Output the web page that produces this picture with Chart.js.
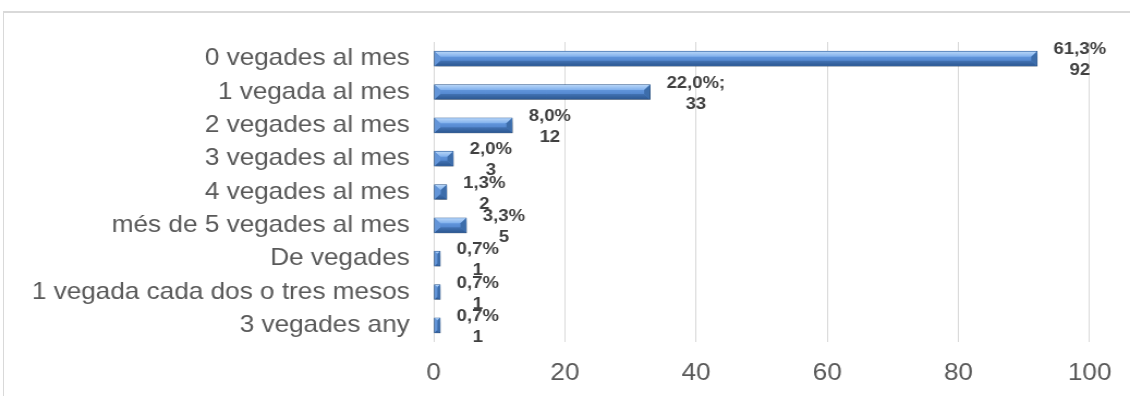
<!DOCTYPE html>
<html>
<head>
<meta charset="utf-8">
<script src="https://cdn.jsdelivr.net/npm/chart.js@4/dist/chart.umd.min.js"></script>
<style>
  html, body { margin: 0; padding: 0; background: #fff; }
  #wrap { position: relative; width: 1130px; height: 396px; overflow: hidden; }
  #frame { position: absolute; left: 3px; top: 11px; width: 1200px; height: 500px;
           border-top: 2px solid #d9d9d9; border-left: 1px solid #d9d9d9; }
  /* the original picture is slightly stretched sideways */
  #chart { position: absolute; left: 0; top: 0; transform-origin: 0 0; transform: scaleX(1.08969); }
</style>
</head>
<body>
<div id="wrap">
  <div id="frame"></div>
  <canvas id="chart" width="1037" height="396"></canvas>
</div>
<script>
const categories = [
    '0 vegades al mes',
    '1 vegada al mes',
    '2 vegades al mes',
    '3 vegades al mes',
    '4 vegades al mes',
    'més de 5 vegades al mes',
    'De vegades',
    '1 vegada cada dos o tres mesos',
    '3 vegades any'
];
const counts = [92, 33, 12, 3, 2, 5, 1, 1, 1];
const pctLabels = ['61,3%', '22,0%;', '8,0%', '2,0%', '1,3%', '3,3%', '0,7%', '0,7%', '0,7%'];
const xTicks = [0, 20, 40, 60, 80, 100];

const FONT = '"Liberation Sans", Arial, sans-serif';

// drop shadow under the base bar fill
const shadowPlugin = {
    id: 'barShadow',
    beforeDatasetDraw(chart) {
        const ctx = chart.ctx;
        ctx.save();
        ctx.shadowColor = 'rgba(0,0,0,0.3)';
        ctx.shadowBlur = 4;
        ctx.shadowOffsetX = 2;
        ctx.shadowOffsetY = 3;
    },
    afterDatasetDraw(chart) {
        chart.ctx.restore();
    }
};

function quad(ctx, pts, fill) {
    ctx.beginPath();
    ctx.moveTo(pts[0][0], pts[0][1]);
    for (let i = 1; i < pts.length; i++) ctx.lineTo(pts[i][0], pts[i][1]);
    ctx.closePath();
    ctx.fillStyle = fill;
    ctx.fill();
}

// bevel on top of each bar, like the office "3D" bar style
const bevelPlugin = {
    id: 'bevel',
    afterDatasetDraw(chart) {
        const ctx = chart.ctx;
        const meta = chart.getDatasetMeta(0);
        ctx.save();
        meta.data.forEach(bar => {
            const p = bar.getProps(['x', 'y', 'base', 'height'], true);
            const x0 = p.base + 0.5, x1 = p.x - 0.5;
            const y0 = p.y - p.height / 2 + 0.5, y1 = p.y + p.height / 2 - 0.5;
            const w = x1 - x0, h = y1 - y0;
            if (w <= 0) return;
            const b = Math.min(5, w / 2, h / 2);

            const body = ctx.createLinearGradient(0, y0, 0, y1);
            body.addColorStop(0, '#6ea2e4');
            body.addColorStop(0.5, '#5b8fd6');
            body.addColorStop(1, '#4679c0');
            ctx.fillStyle = body;
            ctx.fillRect(x0, y0, w, h);

            const top = ctx.createLinearGradient(0, y0, 0, y0 + b);
            top.addColorStop(0, '#b5d4f7');
            top.addColorStop(1, '#80b0ed');
            quad(ctx, [[x0, y0], [x1, y0], [x1 - b, y0 + b], [x0 + b, y0 + b]], top);

            const bot = ctx.createLinearGradient(0, y1 - b, 0, y1);
            bot.addColorStop(0, '#4373b4');
            bot.addColorStop(1, '#2d5993');
            quad(ctx, [[x0, y1], [x1, y1], [x1 - b, y1 - b], [x0 + b, y1 - b]], bot);

            quad(ctx, [[x1, y0], [x1, y1], [x1 - b, y1 - b], [x1 - b, y0 + b]], '#3d6daa');
            quad(ctx, [[x0, y0], [x0, y1], [x0 + b, y1 - b], [x0 + b, y0 + b]], '#6395d8');
        });
        ctx.restore();
    }
};

const labelPlugin = {
    id: 'valueLabels',
    afterDatasetsDraw(chart) {
        const ctx = chart.ctx;
        const meta = chart.getDatasetMeta(0);
        ctx.save();
        ctx.font = 'bold 17px ' + FONT;
        ctx.fillStyle = '#404040';
        ctx.textAlign = 'center';
        ctx.textBaseline = 'middle';
        meta.data.forEach((bar, i) => {
            const a = pctLabels[i], c = String(counts[i]);
            const boxW = Math.max(ctx.measureText(a).width, ctx.measureText(c).width);
            const cx = bar.x + 15 + boxW / 2;
            ctx.fillText(a, cx, bar.y - 9);
            ctx.fillText(c, cx, bar.y + 12);
        });
        ctx.restore();
    }
};

new Chart(document.getElementById('chart'), {
    type: 'bar',
    data: {
        labels: categories,
        datasets: [{
            data: counts,
            backgroundColor: '#5485c8',
            borderColor: '#2f5a8f',
            borderWidth: 1,
            borderSkipped: false,
            barThickness: 15
        }]
    },
    options: {
        indexAxis: 'y',
        responsive: false,
        animation: false,
        devicePixelRatio: 1,
        layout: { padding: { left: 0, right: 34, top: 42, bottom: 0 } },
        plugins: {
            legend: { display: false },
            tooltip: { enabled: false }
        },
        scales: {
            x: {
                min: 0,
                max: 100,
                afterBuildTicks(scale) {
                    scale.ticks = xTicks.map(v => ({ value: v }));
                },
                grid: { color: '#d9d9d9', lineWidth: 1, drawTicks: false },
                border: { display: false },
                ticks: {
                    padding: 17,
                    color: '#595959',
                    font: { family: FONT, size: 24 }
                },
                afterFit(scale) { scale.height = 54; }
            },
            y: {
                grid: { display: false, drawTicks: false },
                border: { display: false },
                ticks: {
                    padding: 22,
                    color: '#595959',
                    font: { family: FONT, size: 24 }
                },
                afterFit(scale) { scale.width = 398; }
            }
        }
    },
    plugins: [shadowPlugin, bevelPlugin, labelPlugin]
});
</script>
</body>
</html>
